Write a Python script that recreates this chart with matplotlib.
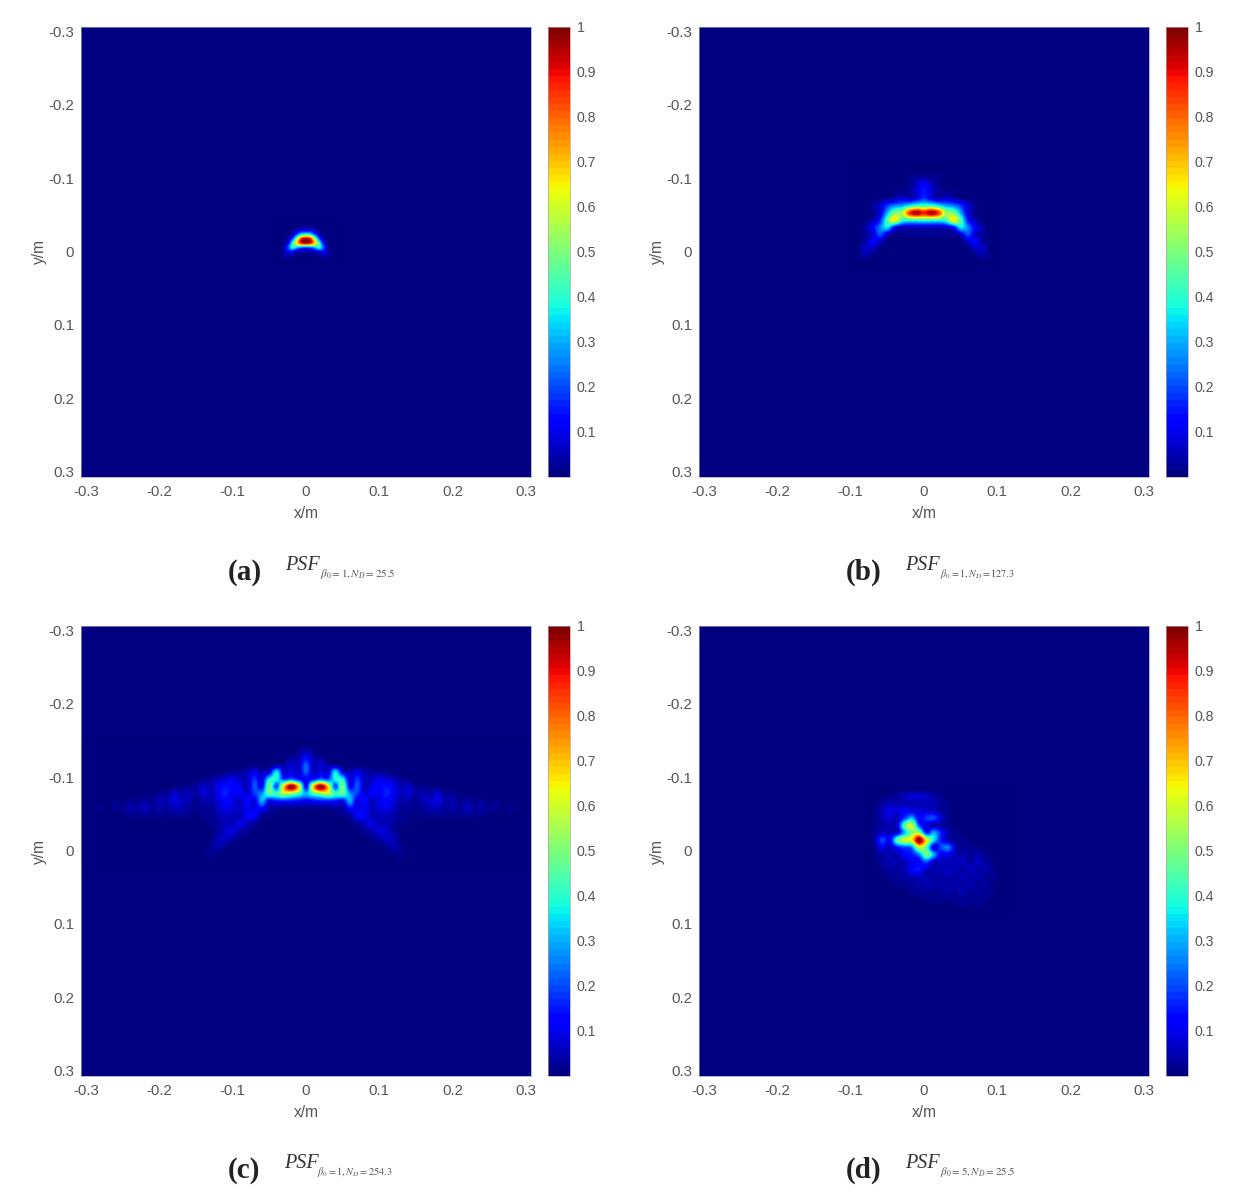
import numpy as np
import matplotlib
matplotlib.use('Agg')
import matplotlib.pyplot as plt
from matplotlib.transforms import ScaledTranslation

plt.rcParams['font.family'] = ['Liberation Sans', 'DejaVu Sans']
plt.rcParams['mathtext.fontset'] = 'stix'

# right half of the symmetric spots (rows go top to bottom)
psf_a_half = [
    [.02, .02, .01, 0, 0, 0, 0],
    [.10, .09, .06, .02, 0, 0, 0],
    [.42, .38, .22, .06, .02, 0, 0],
    [.95, .88, .55, .22, .05, .01, 0],
    [.93, .88, .68, .42, .12, .02, 0],
    [.20, .22, .30, .38, .22, .04, .01],
    [.03, .04, .05, .10, .10, .05, .01],
    [.01, .01, .02, .02, .04, .03, .01],
]
psf_b_half = [
    [.02, .02, .02, 0, 0, 0, 0, 0, 0, 0],
    [.12, .06, .02, 0, 0, 0, 0, 0, 0, 0],
    [.15, .08, .03, .02, .02, 0, 0, 0, 0, 0],
    [.18, .10, .05, .08, .04, .02, 0, 0, 0, 0],
    [.42, .42, .36, .28, .25, .18, .08, .03, 0, 0],
    [.88, .97, .85, .55, .50, .30, .08, .02, 0, 0],
    [.42, .42, .40, .42, .65, .45, .15, .05, .01, 0],
    [.06, .06, .06, .07, .12, .35, .25, .12, .04, 0],
    [.02, .02, .02, .02, .02, .06, .20, .07, .03, 0],
    [.01, .01, .01, .01, .01, .01, .06, .12, .04, .01],
    [0, 0, 0, 0, 0, 0, .01, .05, .07, .01],
    [0, 0, 0, 0, 0, 0, 0, .01, .03, .02],
]
psf_c_half = [
    [.04, .02, 0, 0, 0, 0, 0, 0, 0, 0, 0, 0, 0, 0, 0, 0, 0, 0, 0, 0, 0, 0, 0, 0, 0, 0, 0, 0, 0, 0, 0],
    [.12, .04, .03, 0, 0, 0, 0, 0, 0, 0, 0, 0, 0, 0, 0, 0, 0, 0, 0, 0, 0, 0, 0, 0, 0, 0, 0, 0, 0, 0, 0],
    [.22, .06, .08, .04, .02, 0, 0, 0, 0, 0, 0, 0, 0, 0, 0, 0, 0, 0, 0, 0, 0, 0, 0, 0, 0, 0, 0, 0, 0, 0, 0],
    [.22, .07, .10, .08, .35, .10, .05, .10, .05, .03, .03, .02, 0, 0, 0, 0, 0, 0, 0, 0, 0, 0, 0, 0, 0, 0, 0, 0, 0, 0, 0],
    [.12, .15, .25, .20, .38, .38, .08, .18, .06, .07, .10, .08, .06, .03, .02, 0, 0, 0, 0, 0, 0, 0, 0, 0, 0, 0, 0, 0, 0, 0, 0],
    [.12, .70, 1.0, .70, .20, .50, .12, .22, .05, .10, .13, .14, .10, .05, .07, .03, .02, .02, .01, 0, 0, 0, 0, 0, 0, 0, 0, 0, 0, 0, 0],
    [.30, .42, .50, .55, .42, .45, .28, .18, .08, .12, .10, .16, .11, .05, .08, .03, .06, .04, .08, .03, .03, .01, .01, 0, 0, 0, 0, 0, 0, 0, 0],
    [.10, .12, .14, .14, .14, .10, .30, .08, .14, .05, .10, .12, .08, .04, .04, .02, .05, .07, .09, .04, .05, .02, .04, .02, .03, .01, .02, .01, .01, 0, 0],
    [.02, .02, .02, .02, .03, .04, .12, .10, .10, .07, .08, .10, .06, .03, .03, .02, .03, .05, .05, .03, .04, .03, .06, .03, .04, .02, .02, .01, .02, .01, .01],
    [0, 0, 0, 0, .01, .02, .03, .12, .12, .05, .06, .06, .04, .02, .02, .01, .02, .02, .02, .02, .02, .02, .02, .02, .02, .01, .01, .01, .01, .01, .01],
    [0, 0, 0, 0, 0, 0, .01, .03, .06, .10, .05, .06, .03, .02, .01, .01, 0, 0, 0, 0, 0, 0, 0, 0, 0, 0, 0, 0, 0, 0, 0],
    [0, 0, 0, 0, 0, 0, 0, .01, .03, .05, .09, .07, .03, .01, 0, 0, 0, 0, 0, 0, 0, 0, 0, 0, 0, 0, 0, 0, 0, 0, 0],
    [0, 0, 0, 0, 0, 0, 0, 0, .01, .02, .04, .07, .05, .01, 0, 0, 0, 0, 0, 0, 0, 0, 0, 0, 0, 0, 0, 0, 0, 0, 0],
    [0, 0, 0, 0, 0, 0, 0, 0, 0, .01, .01, .03, .05, .02, 0, 0, 0, 0, 0, 0, 0, 0, 0, 0, 0, 0, 0, 0, 0, 0, 0],
    [0, 0, 0, 0, 0, 0, 0, 0, 0, 0, 0, .01, .02, .03, .01, 0, 0, 0, 0, 0, 0, 0, 0, 0, 0, 0, 0, 0, 0, 0, 0],
    [0, 0, 0, 0, 0, 0, 0, 0, 0, 0, 0, 0, .01, .01, .01, 0, 0, 0, 0, 0, 0, 0, 0, 0, 0, 0, 0, 0, 0, 0, 0],
]
psf_d = [
    [0, .01, .02, .03, .06, .08, .08, .07, .04, .02, 0, 0, 0, 0, 0, 0, 0, 0],
    [.01, .03, .05, .05, .05, .05, .05, .05, .05, .03, .02, 0, 0, 0, 0, 0, 0, 0],
    [.02, .05, .10, .08, .12, .10, .08, .08, .06, .03, .02, 0, 0, 0, 0, 0, 0, 0],
    [.02, .05, .08, .05, .18, .30, .12, .18, .20, .08, .02, .01, 0, 0, 0, 0, 0, 0],
    [.02, .04, .05, .08, .45, .60, .20, .08, .05, .03, .02, .01, 0, 0, 0, 0, 0, 0],
    [.03, .06, .06, .08, .30, .50, .55, .15, .30, .15, .05, .02, .01, 0, 0, 0, 0, 0],
    [.04, .20, .10, .45, .60, .65, 1.0, .65, .35, .15, .04, .02, .02, .01, 0, 0, 0, 0],
    [.03, .10, .05, .15, .20, .25, .60, .45, .08, .20, .25, .05, .03, .03, .02, .01, 0, 0],
    [.02, .04, .05, .05, .12, .15, .25, .50, .30, .10, .10, .05, .04, .03, .04, .02, .01, 0],
    [.01, .03, .05, .05, .05, .10, .12, .20, .06, .06, .06, .05, .07, .03, .07, .03, .02, 0],
    [.01, .02, .04, .03, .05, .12, .15, .06, .05, .05, .05, .06, .03, .07, .03, .05, .02, 0],
    [0, .01, .02, .03, .04, .05, .06, .05, .04, .04, .05, .03, .06, .03, .06, .02, .03, .01],
    [0, 0, .01, .02, .02, .03, .04, .05, .04, .04, .03, .05, .03, .06, .02, .04, .01, .01],
    [0, 0, 0, .01, .01, .02, .03, .03, .03, .03, .04, .03, .05, .02, .04, .02, .02, .01],
    [0, 0, 0, 0, 0, .01, .01, .02, .02, .02, .02, .03, .02, .03, .02, .02, .01, .01],
    [0, 0, 0, 0, 0, 0, 0, .01, .01, .01, .01, .01, .02, .01, .02, .01, .01, 0],
]
axis_ticks = [-0.3, -0.2, -0.1, 0, 0.1, 0.2, 0.3]
axis_labels = ['-0.3', '-0.2', '-0.1', '0', '0.1', '0.2', '0.3']
cbar_ticks = [0.1, 0.2, 0.3, 0.4, 0.5, 0.6, 0.7, 0.8, 0.9, 1]
cbar_labels = ['0.1', '0.2', '0.3', '0.4', '0.5', '0.6', '0.7', '0.8', '0.9', '1']
panel_tags = ['(a)', '(b)', '(c)', '(d)']
panel_subs = [r'$\beta_0{=}1,N_D{=}25.5$', r'$\beta_0{=}1,N_D{=}127.3$',
              r'$\beta_0{=}1,N_D{=}254.3$', r'$\beta_0{=}5,N_D{=}25.5$']

W, H = 1243.0, 1202.0
txt_col = '#555555'
cmap = plt.get_cmap('jet', 64)


def mirror(half):
    half = np.array(half, dtype=float)
    return np.hstack([half[:, :0:-1], half])


def pos(left, top, w, h):
    return [left / W, 1 - (top + h) / H, w / W, h / H]


# tick labels sit a pixel lower than the default centring
def nudge(labels):
    for t in labels:
        t.set_verticalalignment('center')
        t.set_transform(t.get_transform() + ScaledTranslation(0, -1 / 100.0, fig.dpi_scale_trans))


# one panel: dark blue ground, patch with the spot, colorbar
def panel(left, top, patch, x0, y0, step):
    ax = fig.add_axes(pos(left, top, 450, 450))
    ax.set_facecolor(cmap(0))
    patch = np.pad(np.array(patch, dtype=float), 1)
    rows, cols = patch.shape
    x0 = x0 - step
    y0 = y0 - step
    ext = (x0 - step / 2, x0 + (cols - 0.5) * step, y0 + (rows - 0.5) * step, y0 - step / 2)
    im = ax.imshow(patch, cmap=cmap, vmin=0, vmax=1, extent=ext, origin='upper',
                   interpolation='catrom', aspect='auto')
    ax.set_xlim(-0.307, 0.307)
    ax.set_ylim(0.307, -0.307)
    ax.set_xticks(axis_ticks)
    ax.set_xticklabels(axis_labels)
    ax.set_yticks(axis_ticks)
    ax.set_yticklabels(axis_labels)
    ax.tick_params(length=0, labelsize=10.8, labelcolor=txt_col, pad=6)
    ax.tick_params(axis='y', pad=5)
    ax.set_xlabel('x/m', fontsize=11.2, color=txt_col, labelpad=5)
    ax.set_ylabel('y/m', fontsize=11.2, color=txt_col, labelpad=1)
    for s in ax.spines.values():
        s.set_color('#9a9ab8')
        s.set_linewidth(0.5)
    nudge(ax.get_yticklabels())

    cax = fig.add_axes(pos(left + 467, top, 22, 450))
    cb = fig.colorbar(im, cax=cax)
    cb.set_ticks(cbar_ticks)
    cb.set_ticklabels(cbar_labels)
    cb.ax.tick_params(length=0, labelsize=10.2, labelcolor=txt_col, pad=5)
    nudge(cb.ax.get_yticklabels())
    cb.outline.set_edgecolor('#b0a0a0')
    cb.outline.set_linewidth(0.5)


def caption(x_tag, x_psf, x_sub, y, tag, sub, sub_size):
    fig.text(x_tag / W, 1 - (y + 1) / H, tag, fontsize=21, fontweight='bold',
             family='Liberation Serif', color='#222222', va='center', ha='left')
    fig.text(x_psf / W, 1 - (y - 6) / H, 'PSF', fontsize=14.5, style='italic',
             family='Liberation Serif', color='#333333', va='center', ha='left')
    fig.text(x_sub / W, 1 - (y + 3) / H, sub, fontsize=sub_size, color='#555555',
             va='center', ha='left')


fig = plt.figure(figsize=(12.43, 12.02), dpi=100)

panel(81, 27, mirror(psf_a_half), -0.036, -0.036, 0.006)
panel(699, 27, mirror(psf_b_half), -0.09, -0.103, 0.01)
panel(81, 626, mirror(psf_c_half), -0.30, -0.138, 0.01)
panel(699, 626, psf_d, -0.0673, -0.0748, 0.01)

caption(228, 285, 320, 571, panel_tags[0], panel_subs[0], 7.9)
caption(846, 905, 940, 571, panel_tags[1], panel_subs[1], 7.3)
caption(228, 284, 317, 1169, panel_tags[2], panel_subs[2], 7.4)
caption(846, 905, 940, 1169, panel_tags[3], panel_subs[3], 7.9)

plt.savefig('out.png', dpi=100)
